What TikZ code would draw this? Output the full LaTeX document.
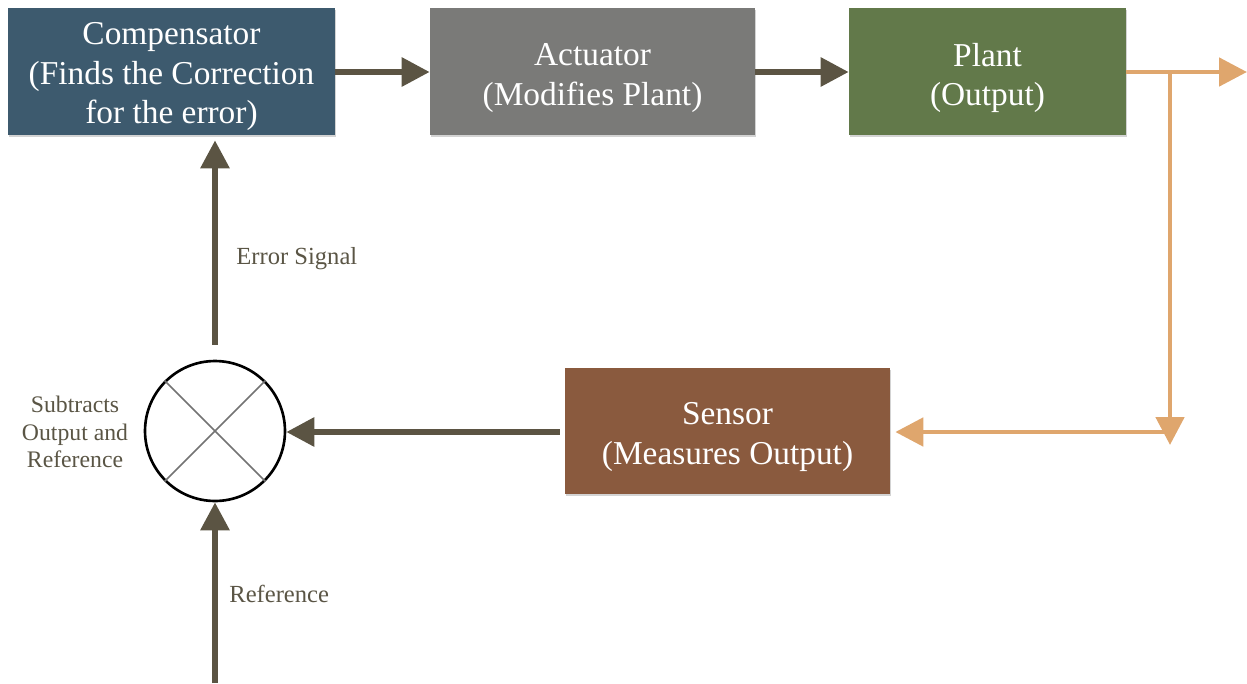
\documentclass[tikz,border=0pt]{standalone}
\usepackage{fontspec}
\setmainfont{Liberation Serif}
\usetikzlibrary{arrows.meta,shadows}
\definecolor{compc}{HTML}{3D5A6E}
\definecolor{actc}{HTML}{7A7A78}
\definecolor{plantc}{HTML}{62794A}
\definecolor{sensc}{HTML}{8A5A3E}
\definecolor{darkarr}{HTML}{5B5443}
\definecolor{orangearr}{HTML}{DFA66D}
\definecolor{labc}{HTML}{5A5545}
\tikzset{
  blockbox/.style={draw=none, inner sep=0pt,
    drop shadow={opacity=0.35, shadow xshift=0.6pt, shadow yshift=-1.2pt}},
  blocktext/.style={text=white, align=center, inner sep=0pt,
    font=\fontsize{19}{22.5}\selectfont},
  darkline/.style={draw=darkarr, line width=3.4pt, -{Triangle[length=0.56cm,width=0.56cm]}},
  orangeline/.style={draw=orangearr, line width=2.8pt},
  orangetip/.style={-{Triangle[length=0.56cm,width=0.56cm]}},
  smalllab/.style={text=labc, font=\fontsize{14}{16}\selectfont, inner sep=0pt}
}
\begin{document}
\begin{tikzpicture}[x=0.02cm,y=-0.02cm]
\useasboundingbox (0,0) rectangle (1247,683);
\node[blockbox, fill=compc, minimum width=6.54cm, minimum height=2.54cm] (comp) at (171.5,71.5) {};
\node[blocktext] (compt) at (171.5,76.5) {Compensator\\(Finds the Correction\\for the error)};
\node[blockbox, fill=actc, minimum width=6.5cm, minimum height=2.54cm] (act) at (592.5,71.5) {};
\node[blocktext] (actt) at (592.5,78) {Actuator\\(Modifies Plant)};
\node[blockbox, fill=plantc, minimum width=5.54cm, minimum height=2.54cm] (plant) at (987.5,71.5) {};
\node[blocktext] (plantt) at (987.5,78) {Plant\\(Output)};
\node[blockbox, fill=sensc, minimum width=6.5cm, minimum height=2.52cm] (sens) at (727.5,431) {};
\node[blocktext] (senst) at (727.5,437) {Sensor\\(Measures Output)};
\node[draw=black, line width=1.5pt, circle, minimum size=2.8cm, inner sep=0pt, fill=white] (sum) at (215,431) {};
\draw[draw=gray!90!black, line width=0.9pt] (sum.45) -- (sum.225);
\draw[draw=gray!90!black, line width=0.9pt] (sum.135) -- (sum.315);
\coordinate (outend) at (1247,72);
\coordinate (branch) at (1170,72);
\coordinate (branchend) at (1170,445);
\coordinate (corner) at (1170,432);
\coordinate (refstart) at (215,683);
\draw[darkline] (comp.east |- 0,72) -- (act.west |- 0,72);
\draw[darkline] (act.east |- 0,72) -- (plant.west |- 0,72);
\draw[orangeline, orangetip] (plant.east |- 0,72) -- (outend);
\draw[orangeline, orangetip] (branch) -- (branchend);
\draw[orangeline, orangetip] (corner) -- ([xshift=0.1cm]sens.east |- 0,432);
\draw[darkline] ([xshift=-0.1cm]sens.west |- 0,432) -- (sum.east |- 0,432);
\draw[darkline, shorten <=0.3cm] (sum.north) -- ([yshift=-0.1cm]comp.south -| sum.north);
\draw[darkline] (refstart) -- (sum.south);
\node[smalllab, anchor=west] (errlab) at (236,259) {Error Signal};
\node[smalllab, anchor=west] (reflab) at (229,594) {Reference};
\node[smalllab, align=center, font=\fontsize{13.5}{15.5}\selectfont] (sublab) at (75,432) {Subtracts\\Output and\\Reference};
\end{tikzpicture}
\end{document}
